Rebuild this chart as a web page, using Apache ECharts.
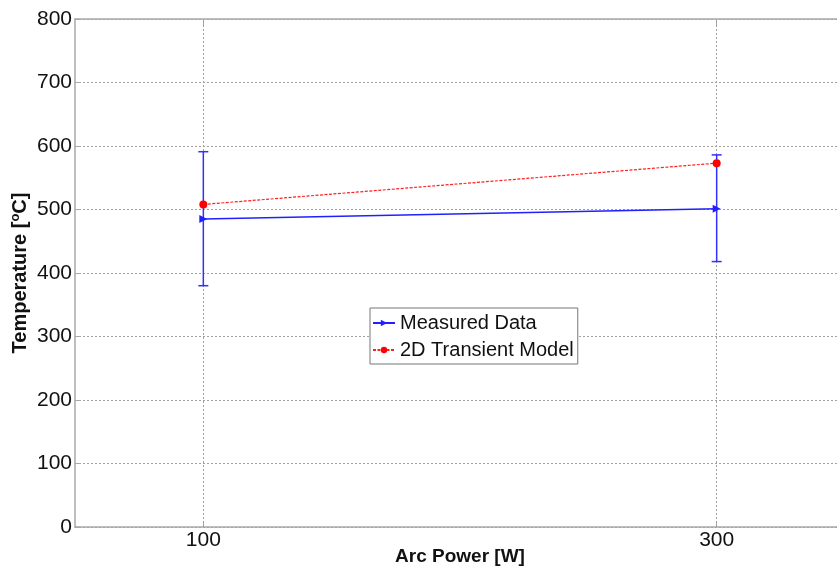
<!DOCTYPE html>
<html>
<head>
<meta charset="utf-8">
<script src="https://cdn.jsdelivr.net/npm/echarts@6/dist/echarts.min.js"></script>
<style>
  html, body { margin: 0; padding: 0; background: #fff; overflow: hidden; }
  #chart { width: 837px; height: 573px; }
</style>
</head>
<body>
<div id="chart"></div>
<script>
// Arc power settings (W)
const arcPower = [100, 300];
// Measured temperature (°C) with its error range
const measured = [485, 501];
const measuredLow = [380, 418];
const measuredHigh = [591, 586];
// 2D transient model prediction (°C)
const model = [508, 573];
// Axis tick values
const xTicks = [100, 300];
const yTicks = [0, 100, 200, 300, 400, 500, 600, 700, 800];

const FONT = '"Liberation Sans", Arial, sans-serif';
const GRID_GRAY = '#a0a0a0';
const AXIS_GRAY = '#a8a8a8';

const chart = echarts.init(document.getElementById('chart'), null, { renderer: 'canvas' });

const pairs = (xs, ys) => xs.map((x, i) => [x, ys[i]]);

chart.setOption({
  animation: false,
  backgroundColor: '#fff',
  grid: {
    left: 75, top: 19, right: -8, bottom: 46,
    outerBoundsMode: 'none', containLabel: false,
    show: false
  },
  xAxis: [
    {
      type: 'value', min: 50, max: 350,
      name: 'Arc Power [W]', nameLocation: 'middle', nameGap: 20, nameMoveOverlap: false,
      nameTextStyle: { fontFamily: FONT, fontSize: 19, fontWeight: 'bold', color: '#111', verticalAlign: 'top' },
      axisLine: { show: true, lineStyle: { color: AXIS_GRAY, width: 1.5 } },
      axisTick: { show: true, inside: true, length: 6, customValues: xTicks, lineStyle: { color: AXIS_GRAY } },
      axisLabel: { customValues: xTicks, margin: 3, fontFamily: FONT, fontSize: 21, color: '#111' },
      splitLine: { show: false }
    },
    {
      // top frame edge
      type: 'value', position: 'top', min: 50, max: 350,
      axisLine: { show: true, onZero: false, lineStyle: { color: AXIS_GRAY, width: 1.5 } },
      axisTick: { show: true, inside: true, length: 6, customValues: xTicks, lineStyle: { color: AXIS_GRAY } },
      axisLabel: { show: false },
      splitLine: { show: false }
    }
  ],
  yAxis: {
    type: 'value', min: 0, max: 800, interval: 100,
    axisLabel: { customValues: yTicks, margin: 3, fontFamily: FONT, fontSize: 21, color: '#111' },
    name: 'Temperature [{sup|o}C]', nameLocation: 'middle', nameGap: 44, nameRotate: 90, nameMoveOverlap: false,
    nameTextStyle: {
      fontFamily: FONT, fontSize: 20, fontWeight: 'bold', color: '#111',
      rich: { sup: { fontFamily: FONT, fontSize: 13, fontWeight: 'bold', color: '#111', verticalAlign: 'top', padding: [0, 0, 9, 0] } }
    },
    axisLine: { show: true, lineStyle: { color: AXIS_GRAY, width: 1.5 } },
    axisTick: { show: true, inside: true, length: 6, lineStyle: { color: AXIS_GRAY } },
    splitLine: { show: true, lineStyle: { color: GRID_GRAY, type: [2, 2], width: 1 } }
  },
  legend: {
    orient: 'vertical', left: 370, top: 308,
    backgroundColor: '#fff', borderColor: '#777', borderWidth: 1,
    padding: [3, 4, 2, 2], itemGap: 3, itemWidth: 22, itemHeight: 8,
    textStyle: { fontFamily: FONT, fontSize: 20, lineHeight: 24, color: '#111' },
    data: ['Measured Data', '2D Transient Model']
  },
  series: [
    {
      // vertical grid lines at the x tick values
      name: 'xgrid',
      type: 'line',
      z: 1,
      data: [],
      silent: true,
      markLine: {
        z: 1,
        silent: true,
        animation: false,
        symbol: ['none', 'none'],
        label: { show: false },
        emphasis: { disabled: true },
        lineStyle: { color: GRID_GRAY, type: [2, 2], width: 1 },
        data: xTicks.map(v => ({ xAxis: v }))
      }
    },
    {
      name: 'error',
      type: 'custom',
      z: 6,
      data: arcPower.map((x, i) => [x, measuredLow[i], measuredHigh[i]]),
      renderItem: (params, api) => {
        const x = api.value(0);
        const lo = api.coord([x, api.value(1)]);
        const hi = api.coord([x, api.value(2)]);
        const cap = 5;
        const style = { stroke: '#3030ff', lineWidth: 1.5, fill: null };
        return {
          type: 'group',
          children: [
            { type: 'line', shape: { x1: lo[0], y1: lo[1], x2: hi[0], y2: hi[1] }, style },
            { type: 'line', shape: { x1: lo[0] - cap, y1: lo[1], x2: lo[0] + cap, y2: lo[1] }, style },
            { type: 'line', shape: { x1: hi[0] - cap, y1: hi[1], x2: hi[0] + cap, y2: hi[1] }, style }
          ]
        };
      }
    },
    {
      name: 'Measured Data',
      type: 'line',
      z: 7,
      data: pairs(arcPower, measured),
      symbol: 'triangle', symbolRotate: -90, symbolSize: 8,
      color: '#2020ff',
      lineStyle: { color: '#2020ff', width: 1.5 },
      itemStyle: { color: '#2020ff' }
    },
    {
      name: '2D Transient Model',
      type: 'line',
      z: 8,
      data: pairs(arcPower, model),
      symbol: 'circle', symbolSize: 8,
      color: '#ff0000',
      lineStyle: { color: '#ff2020', width: 1.2, type: [3, 1.5] },
      itemStyle: { color: '#ff0000' }
    }
  ]
});
</script>
</body>
</html>
